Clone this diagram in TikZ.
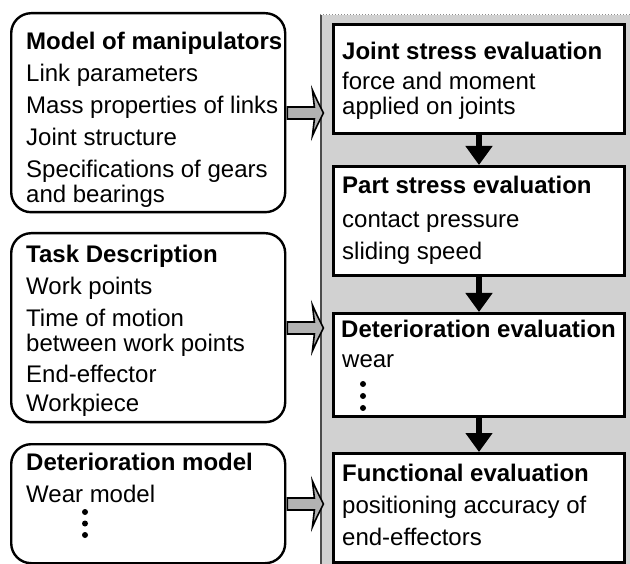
\documentclass[tikz,border=0pt]{standalone}
\usepackage{fontspec}
\setmainfont{Liberation Sans}
\usetikzlibrary{arrows.meta}
\tikzset{
  lbox/.style={draw, line width=2.4pt, rounded corners=20pt, anchor=north west, inner sep=0pt},
  rbox/.style={draw, line width=3pt, fill=white, anchor=north west, inner sep=0pt},
  txt/.style={anchor=base west, inner sep=0pt, font=\fontsize{24}{28}\selectfont},
  hd/.style={txt, font=\fontsize{24}{28}\selectfont\bfseries},
  flow/.style={line width=6.5pt, -{Triangle[width=26pt,length=19pt]}},
  hollow/.style={draw, line width=1.6pt, fill=black!30, line join=miter},
  vdot/.style={circle, fill, inner sep=0pt, minimum size=6pt}
}
\begin{document}
\begin{tikzpicture}[x=1pt,y=-1pt]
\useasboundingbox (0,0) rectangle (630,564);
% panel
\fill[black!18] (320,15) rectangle (630,564);
\draw[black!70, line width=2pt] (321,15) -- (321,564);
\draw[black!45, line width=1pt, dotted] (320,15) -- (630,15);
% left boxes
\node[lbox, minimum width=274pt, minimum height=199pt] (m1) at (10,12) {};
\node[lbox, minimum width=274pt, minimum height=189pt] (m2) at (10,232) {};
\node[lbox, minimum width=274pt, minimum height=119pt] (m3) at (10,443) {};
% right boxes
\node[rbox, minimum width=291pt, minimum height=109pt] (a) at (332,23) {};
\node[rbox, minimum width=291pt, minimum height=109pt] (b) at (332,165) {};
\node[rbox, minimum width=291pt, minimum height=103pt] (c) at (332,312) {};
\node[rbox, minimum width=291pt, minimum height=109pt] (d) at (332,452) {};
% left texts
\node[hd]  (t11) at (26,50)  {Model of manipulators};
\node[txt] (t12) at (26,82)  {Link parameters};
\node[txt] (t13) at (26,114) {Mass properties of links};
\node[txt] (t14) at (26,146) {Joint structure};
\node[txt] (t15) at (26,178) {Specifications of gears};
\node[txt] (t16) at (26,203) {and bearings};
\node[hd]  (t21) at (26,263) {Task Description};
\node[txt] (t22) at (26,295) {Work points};
\node[txt] (t23) at (26,327) {Time of motion};
\node[txt] (t24) at (26,352) {between work points};
\node[txt] (t25) at (26,383) {End-effector};
\node[txt] (t26) at (26,412) {Workpiece};
\node[hd]  (t31) at (26,470) {Deterioration model};
\node[txt] (t32) at (26,502) {Wear model};
\node[vdot] (d31) at (85,512) {};
\node[vdot] (d32) at (85,523.5) {};
\node[vdot] (d33) at (85,535) {};
% right texts
\node[hd]  (ra1) at (342,60)  {Joint stress evaluation};
\node[txt] (ra2) at (342,90)  {force and moment};
\node[txt] (ra3) at (342,115) {applied on joints};
\node[hd]  (rb1) at (342,194) {Part stress evaluation};
\node[txt] (rb2) at (342,228) {contact pressure};
\node[txt] (rb3) at (342,260) {sliding speed};
\node[hd]  (rc1) at (341,338) {Deterioration evaluation};
\node[txt] (rc2) at (342,368) {wear};
\node[vdot] (dc1) at (363,384) {};
\node[vdot] (dc2) at (363,396) {};
\node[vdot] (dc3) at (363,408) {};
\node[hd]  (rd1) at (342,482) {Functional evaluation};
\node[txt] (rd2) at (342,513) {positioning accuracy of};
\node[txt] (rd3) at (342,545) {end-effectors};
% flow arrows
\draw[flow] (a.south) -- (b.north);
\draw[flow] (b.south) -- (c.north);
\draw[flow] (c.south) -- (d.north);
% hollow arrows
\coordinate (h1) at (m1.east |- 0,113);
\coordinate (h2) at (m2.east |- 0,328);
\coordinate (h3) at (m3.east |- 0,504);
\foreach \h in {h1,h2,h3}{
  \draw[hollow] (\h) ++(1,-6) -- ++(27,0) -- ++(-2,-17) .. controls ++(4,9) .. ++(11,23)
     .. controls ++(-7,14) .. ++(-11,23) -- ++(2,-17) -- ++(-27,0) -- cycle;
}
\end{tikzpicture}
\end{document}
